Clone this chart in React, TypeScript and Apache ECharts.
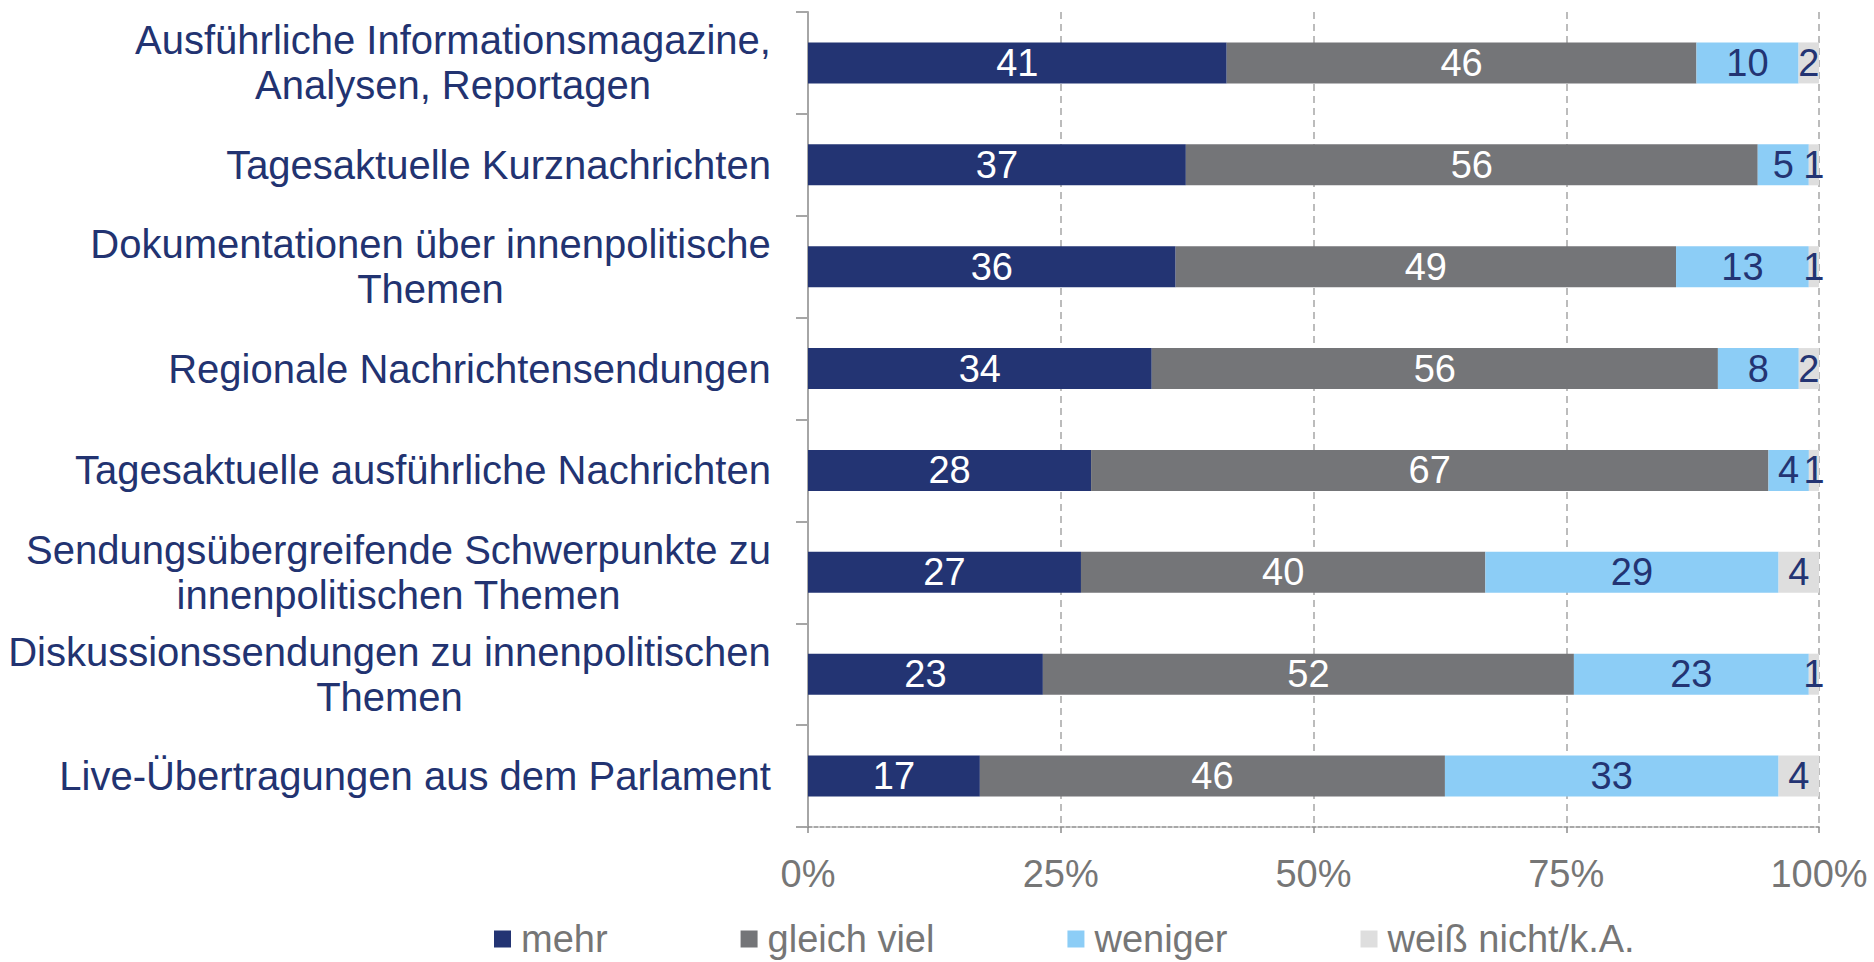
import React, { useEffect, useRef } from "react";
import * as echarts from "echarts";

const categories = [
  "Ausführliche Informationsmagazine,\nAnalysen, Reportagen",
  "Tagesaktuelle Kurznachrichten",
  "Dokumentationen über innenpolitische\nThemen",
  "Regionale Nachrichtensendungen",
  "Tagesaktuelle ausführliche Nachrichten",
  "Sendungsübergreifende Schwerpunkte zu\ninnenpolitischen Themen",
  "Diskussionssendungen zu innenpolitischen\nThemen",
  "Live-Übertragungen aus dem Parlament",
];

const seriesNames = ["mehr", "gleich viel", "weniger", "weiß nicht/k.A."];

const mehr = [41, 37, 36, 34, 28, 27, 23, 17];
const gleichViel = [46, 56, 49, 56, 67, 40, 52, 46];
const weniger = [10, 5, 13, 8, 4, 29, 23, 33];
const weissNicht = [2, 1, 1, 2, 1, 4, 1, 4];

const xTicks = [0, 25, 50, 75, 100];

const colors = ["#233473", "#747578", "#8ccdf6", "#dedede"];
const labelColors = ["#ffffff", "#ffffff", "#233473", "#233473"];

const FONT = "'Liberation Sans', Arial, sans-serif";
const CAT_FONT_SIZE = 40;

export default function App() {
  const ref = useRef<HTMLDivElement>(null);

  useEffect(() => {
    if (!ref.current) return;
    const chart = echarts.init(ref.current, undefined, { renderer: "svg" });
    const raw = [mehr, gleichViel, weniger, weissNicht];
    const totals = categories.map((_, i) => raw.reduce((s, arr) => s + arr[i], 0));

    // measure the widest line of each category label so lines can be centred in a right-aligned block
    const canvas = document.createElement("canvas");
    const ctx = canvas.getContext("2d")!;
    ctx.font = `${CAT_FONT_SIZE}px ${FONT}`;
    const rich: Record<string, any> = {};
    categories.forEach((c, i) => {
      const w = Math.max(...c.split("\n").map((l) => ctx.measureText(l).width));
      rich["c" + i] = {
        width: Math.ceil(w) + 2,
        align: "center",
        color: "#223371",
        fontSize: CAT_FONT_SIZE,
        lineHeight: 45,
        fontFamily: FONT,
      };
    });

    const series = raw.map((arr, si) => ({
      name: seriesNames[si],
      type: "bar",
      stack: "total",
      barWidth: 41,
      itemStyle: { color: colors[si] },
      label: {
        show: true,
        position: "inside",
        color: labelColors[si],
        fontSize: 38,
        fontFamily: FONT,
        formatter: (p: any) => String(arr[p.dataIndex]),
      },
      data: arr.map((v, i) => (v / totals[i]) * 100),
    }));

    chart.setOption({
      animation: false,
      backgroundColor: "#ffffff",
      textStyle: { fontFamily: FONT },
      grid: { left: 808, right: 55, top: 12, bottom: 135, containLabel: false },
      legend: {
        data: seriesNames,
        left: 489,
        top: 915,
        icon: "rect",
        itemWidth: 17,
        itemHeight: 17,
        itemGap: 133,
        textStyle: {
          color: "#767676",
          fontSize: 38,
          fontFamily: FONT,
          padding: [0, 0, 0, 5],
        },
      },
      xAxis: {
        type: "value",
        min: xTicks[0],
        max: xTicks[xTicks.length - 1],
        interval: 25,
        axisLine: {
          show: true,
          lineStyle: { color: "#8c8c8c", width: 1.5, type: [4, 2] },
        },
        axisTick: {
          show: true,
          length: 6,
          lineStyle: { color: "#8c8c8c", width: 1.5 },
        },
        splitLine: {
          show: true,
          lineStyle: { color: "#a6a6a6", width: 1.5, type: [7, 5] },
        },
        axisLabel: {
          color: "#767676",
          fontSize: 38,
          fontFamily: FONT,
          margin: 28,
          formatter: "{value}%",
        },
      },
      yAxis: {
        type: "category",
        inverse: true,
        data: categories,
        axisLine: { show: true, lineStyle: { color: "#a6a6a6", width: 2 } },
        axisTick: {
          show: true,
          length: 12,
          lineStyle: { color: "#a6a6a6", width: 2 },
        },
        axisLabel: {
          color: "#223371",
          fontSize: CAT_FONT_SIZE,
          lineHeight: 45,
          fontFamily: FONT,
          margin: 36,
          align: "right",
          rich,
          formatter: (value: string) => {
            const i = categories.indexOf(value);
            return value
              .split("\n")
              .map((l) => `{c${i}|${l}}`)
              .join("\n");
          },
        },
      },
      series,
    });

    return () => {
      chart.dispose();
    };
  }, []);

  return (
    <div
      ref={ref}
      style={{ position: "absolute", left: 0, top: 0, width: 1874, height: 962 }}
    />
  );
}
